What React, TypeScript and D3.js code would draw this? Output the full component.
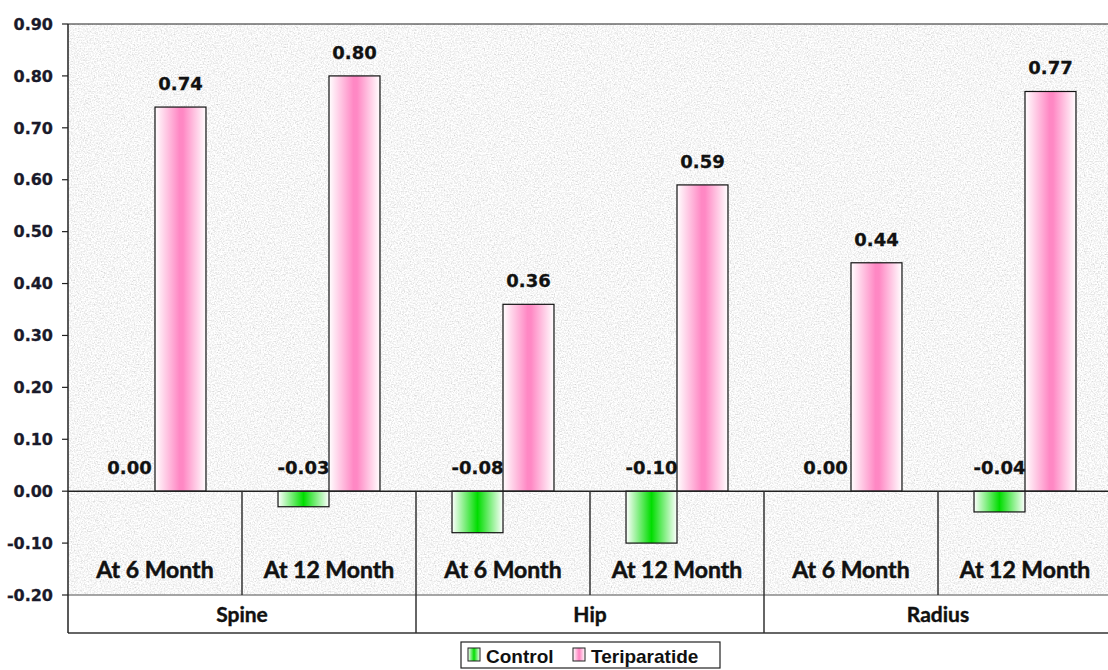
import React from "react";
import * as d3 from "d3";

const groups = ["Spine", "Hip", "Radius"];
const periods = ["At 6 Month", "At 12 Month"];
const controlValues = [0.0, -0.03, -0.08, -0.1, 0.0, -0.04];
const teriparatideValues = [0.74, 0.8, 0.36, 0.59, 0.44, 0.77];
const yTickValues = [-0.2, -0.1, 0, 0.1, 0.2, 0.3, 0.4, 0.5, 0.6, 0.7, 0.8, 0.9];
const seriesNames = ["Control", "Teriparatide"];

const W = 1108;
const H = 670;
const left = 68;
const right = 1112;
const top = 24;
const bottom = 595;
const groupBottom = 633;

const tickFont = "'DejaVu Sans', sans-serif";
const catFont = "Lato, 'Open Sans', sans-serif";
const legFont = "'Liberation Sans', Arial, sans-serif";

export default function App() {
  const cats = groups.flatMap((g) => periods.map((p) => `${g}|${p}`));
  const x = d3.scaleBand<string>().domain(cats).range([left, right]).padding(0);
  const y = d3.scaleLinear().domain([-0.2, 0.9]).range([bottom, top]);
  const bw = x.bandwidth();
  const barW = bw * 0.293;
  const y0 = y(0);
  const f2 = d3.format(".2f");
  const fmt = (v: number) => f2(v).replace("\u2212", "-");

  return (
    <svg
      width={W}
      height={H}
      style={{ position: "absolute", left: 0, top: 0, background: "#fff" }}
    >
      <defs>
        <filter
          id="granite"
          x="0"
          y="0"
          width="100%"
          height="100%"
          colorInterpolationFilters="sRGB"
        >
          <feTurbulence type="fractalNoise" baseFrequency="0.7" numOctaves={2} seed={4} result="n" />
          <feColorMatrix
            in="n"
            type="matrix"
            values="0.17 0.17 0.17 0 0.71  0.17 0.17 0.17 0 0.71  0.17 0.17 0.17 0 0.71  0 0 0 0 1"
          />
        </filter>
        <linearGradient id="gGreen" x1="0" x2="1" y1="0" y2="0">
          <stop offset="0" stopColor="#ffffff" />
          <stop offset="0.5" stopColor="#00dd00" />
          <stop offset="1" stopColor="#ffffff" />
        </linearGradient>
        <linearGradient id="gPink" x1="0" x2="1" y1="0" y2="0">
          <stop offset="0" stopColor="#ffffff" />
          <stop offset="0.48" stopColor="#ff88c4" />
          <stop offset="0.55" stopColor="#ff88c4" />
          <stop offset="1" stopColor="#ffffff" />
        </linearGradient>
      </defs>

      {/* textured plot area */}
      <rect x={left} y={top} width={right - left} height={bottom - top} fill="#eee" filter="url(#granite)" />

      {/* plot area top border */}
      <line x1={left} x2={right} y1={top} y2={top} stroke="#222" strokeWidth={1.2} />

      {/* bars */}
      {cats.map((c, i) => {
        const cx = (x(c) as number) + bw / 2;
        const vc = controlValues[i];
        const vt = teriparatideValues[i];
        return (
          <g key={c}>
            <rect
              x={cx - barW}
              y={Math.min(y(vc), y0)}
              width={barW}
              height={Math.abs(y(vc) - y0)}
              fill="url(#gGreen)"
              stroke="#111"
              strokeWidth={1.2}
            />
            <rect
              x={cx}
              y={Math.min(y(vt), y0)}
              width={barW}
              height={Math.abs(y(vt) - y0)}
              fill="url(#gPink)"
              stroke="#111"
              strokeWidth={1.2}
            />
            <text
              x={cx - barW / 2}
              y={y(Math.max(vc, 0)) - 17}
              textAnchor="middle"
              fontFamily={tickFont}
              fontWeight="bold"
              fontSize={18}
              fill="#111"
              stroke="#111"
              strokeWidth={0.3}
            >
              {fmt(vc)}
            </text>
            <text
              x={cx + barW / 2}
              y={y(Math.max(vt, 0)) - 17}
              textAnchor="middle"
              fontFamily={tickFont}
              fontWeight="bold"
              fontSize={18}
              fill="#111"
              stroke="#111"
              strokeWidth={0.3}
            >
              {fmt(vt)}
            </text>
          </g>
        );
      })}

      {/* zero / category axis line */}
      <line x1={left} x2={right} y1={y0} y2={y0} stroke="#222" strokeWidth={1.5} />

      {/* group label row background */}
      <rect x={left} y={bottom + 1} width={right - left} height={groupBottom - bottom - 1} fill="#fff" />
      <line x1={left} x2={right} y1={bottom} y2={bottom} stroke="#888" strokeWidth={1.5} />
      <line x1={left} x2={right} y1={groupBottom} y2={groupBottom} stroke="#333" strokeWidth={1.5} />

      {/* category separators */}
      {cats.map((c, i) => {
        if (i === 0) return null;
        const xx = x(c) as number;
        const isGroup = i % periods.length === 0;
        return (
          <line
            key={"sep" + c}
            x1={xx}
            x2={xx}
            y1={y0}
            y2={isGroup ? groupBottom : bottom}
            stroke="#333"
            strokeWidth={1.5}
          />
        );
      })}

      {/* period labels */}
      {cats.map((c, i) => (
        <text
          key={"pl" + c}
          x={(x(c) as number) + bw / 2}
          y={578}
          textAnchor="middle"
          fontFamily={catFont}
          fontWeight="bold"
          fontSize={23}
          fill="#111"
          stroke="#111"
          strokeWidth={0.5}
        >
          {periods[i % periods.length]}
        </text>
      ))}

      {/* group labels */}
      {groups.map((g) => {
        const x0 = x(`${g}|${periods[0]}`) as number;
        const x1 = (x(`${g}|${periods[periods.length - 1]}`) as number) + bw;
        return (
          <text
            key={"gl" + g}
            x={(x0 + x1) / 2}
            y={622}
            textAnchor="middle"
            fontFamily={catFont}
            fontWeight="bold"
            fontSize={21}
            fill="#111"
            stroke="#111"
            strokeWidth={0.4}
          >
            {g}
          </text>
        );
      })}

      {/* y axis */}
      <line x1={left} x2={left} y1={top} y2={groupBottom} stroke="#222" strokeWidth={1.5} />
      {yTickValues.map((t) => (
        <g key={"t" + t}>
          <line x1={left - 6} x2={left} y1={y(t)} y2={y(t)} stroke="#222" strokeWidth={1.2} />
          <text
            x={53}
            y={y(t)}
            dy="0.36em"
            textAnchor="end"
            fontFamily={tickFont}
            fontWeight="bold"
            fontSize={16}
            fill="#1a1a2a"
            stroke="#1a1a2a"
            strokeWidth={0.3}
          >
            {fmt(t)}
          </text>
        </g>
      ))}

      {/* legend */}
      <g>
        <rect x={461} y={642} width={259} height={26} fill="#fff" stroke="#222" strokeWidth={1.2} />
        <rect x={468} y={648} width={12} height={13} fill="url(#gGreen)" stroke="#222" strokeWidth={1} />
        <text x={486} y={663} fontFamily={legFont} fontWeight="bold" fontSize={19} fill="#111">
          {seriesNames[0]}
        </text>
        <rect x={573} y={648} width={12} height={13} fill="url(#gPink)" stroke="#222" strokeWidth={1} />
        <text x={591} y={663} fontFamily={legFont} fontWeight="bold" fontSize={19} fill="#111">
          {seriesNames[1]}
        </text>
      </g>
    </svg>
  );
}
